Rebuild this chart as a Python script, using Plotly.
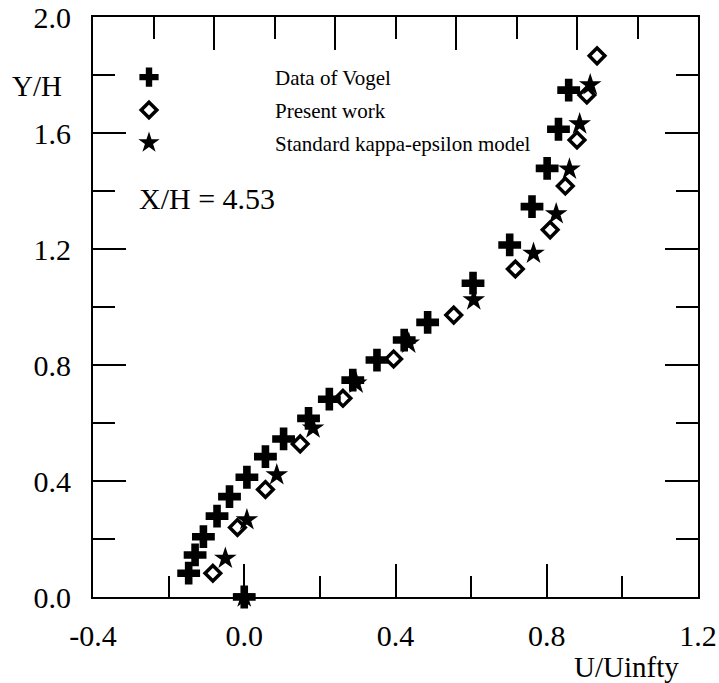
import plotly.graph_objects as go

# Data of Vogel (plus markers)
vogel_u = [0.0, -0.147, -0.130, -0.108, -0.072, -0.039, 0.007, 0.056, 0.104, 0.170,
           0.225, 0.287, 0.351, 0.423, 0.485, 0.605, 0.702, 0.761, 0.801, 0.831, 0.858]
vogel_y = [0.0, 0.082, 0.145, 0.208, 0.279, 0.346, 0.413, 0.484, 0.545, 0.616,
           0.682, 0.748, 0.817, 0.886, 0.947, 1.082, 1.214, 1.346, 1.478, 1.613, 1.748]

# Present work (open diamonds)
present_u = [-0.083, -0.018, 0.056, 0.148, 0.261, 0.395, 0.554, 0.717, 0.809, 0.849, 0.880, 0.906, 0.933]
present_y = [0.082, 0.240, 0.371, 0.528, 0.685, 0.821, 0.972, 1.131, 1.266, 1.417, 1.576, 1.731, 1.866]

# Standard kappa-epsilon model (stars)
kepsilon_u = [0.0, -0.050, 0.007, 0.086, 0.182, 0.296, 0.435, 0.607, 0.765, 0.825, 0.860, 0.887, 0.915]
kepsilon_y = [0.0, 0.133, 0.266, 0.421, 0.582, 0.737, 0.875, 1.024, 1.185, 1.321, 1.475, 1.631, 1.766]

# Tick labels
x_tickvals = [-0.4, 0.0, 0.4, 0.8, 1.2]
x_ticktext = ["-0.4", "0.0", "0.4", "0.8", "1.2"]
y_tickvals = [0.0, 0.4, 0.8, 1.2, 1.6, 2.0]
y_ticktext = ["0.0", "0.4", "0.8", "1.2", "1.6", "2.0"]

FONT = "Liberation Serif, Times New Roman, serif"

fig = go.Figure()
fig.add_trace(go.Scatter(x=vogel_u, y=vogel_y, mode="markers", name="Data of Vogel",
                         legendgroup="a", cliponaxis=False,
                         marker=dict(symbol="cross", size=19, color="black",
                                     line=dict(width=0))))
fig.add_trace(go.Scatter(x=present_u, y=present_y, mode="markers", name="Present work",
                         legendgroup="b", cliponaxis=False,
                         marker=dict(symbol="diamond-open", size=12, color="black",
                                     line=dict(width=3.5, color="black"))))
fig.add_trace(go.Scatter(x=kepsilon_u, y=kepsilon_y, mode="markers",
                         name="Standard kappa-epsilon model", legendgroup="c",
                         cliponaxis=False,
                         marker=dict(symbol="star", size=17, color="black",
                                     line=dict(width=0))))
# empty trace to activate the mirrored axes
fig.add_trace(go.Scatter(x=[None], y=[None], xaxis="x2", yaxis="y2",
                         showlegend=False, hoverinfo="skip"))

axis_common = dict(showgrid=False, zeroline=False, showline=True, linecolor="black",
                   linewidth=2, ticks="inside", tickcolor="black", tickwidth=2,
                   automargin=False)

fig.update_layout(
    width=719, height=683,
    margin=dict(l=93, r=21, t=17, b=86),
    paper_bgcolor="white", plot_bgcolor="white",
    font=dict(family=FONT, color="black", size=30),
    showlegend=True,
    legend=dict(x=(23 - 93) / 605, y=(597 - 57) / 580, xanchor="left", yanchor="top",
                bgcolor="rgba(0,0,0,0)", font=dict(size=21, family=FONT),
                itemwidth=242, tracegroupgap=2.5, traceorder="grouped"),
    xaxis=dict(range=[-0.4, 1.2], tickvals=x_tickvals, ticktext=x_ticktext, ticklen=33,
               minor=dict(dtick=0.2, tick0=-0.4, ticklen=21, ticks="inside",
                          tickwidth=2, tickcolor="black"),
               tickfont=dict(size=30, family=FONT), ticklabelstandoff=11,
               **axis_common),
    yaxis=dict(range=[0, 2.0], tickvals=y_tickvals, ticktext=y_ticktext, ticklen=33,
               minor=dict(dtick=0.2, tick0=0, ticklen=22, ticks="inside",
                          tickwidth=2, tickcolor="black"),
               tickfont=dict(size=30, family=FONT), ticklabelstandoff=14,
               **axis_common),
    xaxis2=dict(range=[-0.4, 1.2], overlaying="x", side="top", tick0=-0.4, dtick=0.32,
                ticklen=33, showticklabels=False,
                minor=dict(dtick=0.16, tick0=-0.4, ticklen=22, ticks="inside",
                           tickwidth=2, tickcolor="black"),
                **axis_common),
    yaxis2=dict(range=[0, 2.0], overlaying="y", side="right", tick0=0, dtick=0.4,
                ticklen=33, showticklabels=False,
                minor=dict(dtick=0.2, tick0=0, ticklen=22, ticks="inside",
                           tickwidth=2, tickcolor="black"),
                **axis_common),
    annotations=[
        dict(text="Y/H", xref="paper", yref="paper", x=(37 - 93) / 605, y=(597 - 86) / 580,
             xanchor="center", yanchor="middle", showarrow=False,
             font=dict(size=29, family=FONT)),
        dict(text="U/Uinfty", xref="paper", yref="paper", x=(626 - 93) / 605,
             y=(597 - 667) / 580, xanchor="center", yanchor="middle", showarrow=False,
             font=dict(size=29, family=FONT)),
        dict(text="X/H = 4.53", xref="paper", yref="paper", x=(137 - 93) / 605,
             y=(597 - 198) / 580, xanchor="left", yanchor="middle", showarrow=False,
             font=dict(size=30, family=FONT)),
    ],
)

fig.write_html("out.html", config={"displayModeBar": False},
               post_script="document.body.style.margin='0';document.body.style.padding='0';")
